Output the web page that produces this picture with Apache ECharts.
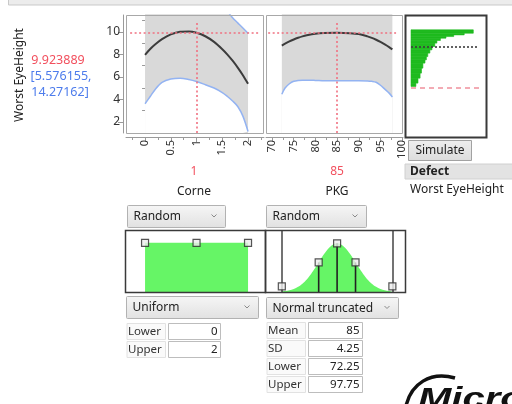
<!DOCTYPE html>
<html><head><meta charset="utf-8">
<script src="https://cdn.jsdelivr.net/npm/echarts@6/dist/echarts.min.js"></script>
<style>html,body{margin:0;padding:0;background:#fff}#c{width:512px;height:404px}</style>
</head><body><div id="c"></div>
<script>
// ---------- data ----------
const corneX     = [0, 0.1, 0.2, 0.33, 0.5, 0.68, 0.85, 1, 1.17, 1.34, 1.5, 1.6, 1.7, 1.8, 1.9, 2];
const corneMean  = [7.96, 8.48, 8.9, 9.35, 9.77, 10.01, 10.04, 9.92, 9.61, 9.11, 8.46, 7.98, 7.43, 6.82, 6.14, 5.38];
const corneLower = [3.6, 4.25, 4.9, 5.5, 5.8, 5.88, 5.76, 5.58, 5.3, 5.0, 4.6, 4.25, 3.85, 3.36, 2.5, 1.14];
const corneUpper = [12.3, 12.7, 12.9, 13.2, 13.7, 14.1, 14.3, 14.27, 13.9, 13.2, 12.4, 11.85, 11.25, 10.8, 10.35, 9.88];

const pkgX     = [72.25, 73, 74, 75, 76, 77, 78, 80, 82, 85, 88, 90, 92, 93, 94, 95, 96, 97, 97.75];
const pkgMean  = [8.78, 8.95, 9.15, 9.32, 9.47, 9.6, 9.7, 9.84, 9.9, 9.92, 9.88, 9.8, 9.6, 9.47, 9.3, 9.1, 8.88, 8.64, 8.44];
const pkgLower = [4.45, 5.0, 5.38, 5.6, 5.68, 5.7, 5.7, 5.68, 5.65, 5.64, 5.64, 5.64, 5.63, 5.6, 5.52, 5.25, 4.9, 4.55, 4.2];
const pkgUpper = [13.1, 12.9, 12.9, 13.0, 13.3, 13.5, 13.7, 14.0, 14.15, 14.2, 14.1, 13.96, 13.6, 13.3, 13.1, 12.95, 12.9, 12.75, 12.7];

const corneTicks = [0, 0.5, 1, 1.5, 2];
const corneMinor = [-0.25, 0.25, 0.75, 1.25, 1.75, 2.25];
const pkgTicks   = [70, 75, 80, 85, 90, 95, 100];
const pkgMinor   = [72.5, 77.5, 82.5, 87.5, 92.5, 97.5];
const yTicks     = [2, 4, 6, 8, 10];
const yMinor     = [1, 3, 5, 7, 9, 11];

const corneCurrent = 1;
const pkgCurrent = 85;
const predText = '9.923889';
const ciText1 = '[5.576155,';
const ciText2 = '14.27162]';
const predValue = 9.923889;

// simulated distribution (horizontal histogram of Worst EyeHeight)
const histLow   = [9.88, 9.73, 9.58, 9.44, 9.23, 9.0, 8.69, 8.4, 8.11, 7.8, 7.51, 7.22, 6.77, 6.33, 5.88, 5.44, 5.14];
const histHigh  = [10.18, 9.88, 9.73, 9.58, 9.44, 9.23, 9.0, 8.69, 8.4, 8.11, 7.8, 7.51, 7.22, 6.77, 6.33, 5.88, 5.44];
const histWidth = [89, 76, 61, 50, 42, 37, 34, 30, 27, 24, 22, 20, 17, 15, 13, 10, 7];
const histMean = 8.7;
const specLimit = 5;

// input distributions
const uniformX = [0, 2];
const uniformDensity = [0.5, 0.5];
const uniformHandles = [0, 1, 2];
const normX = [72.25, 73, 74, 75, 76, 77, 78, 79, 80, 81, 82, 83, 84, 85, 86, 87, 88, 89, 90, 91, 92, 93, 94, 95, 96, 97, 97.75];
const normDensity = [0.0010, 0.0017, 0.0033, 0.0059, 0.0100, 0.0160, 0.0242, 0.0347, 0.0470, 0.0603, 0.0732, 0.0841, 0.0913, 0.0939,
                     0.0913, 0.0841, 0.0732, 0.0603, 0.0470, 0.0347, 0.0242, 0.0160, 0.0100, 0.0059, 0.0033, 0.0017, 0.0010];
const normHandlesX = [72.25, 80.75, 85, 89.25, 97.75];
const normHandlesY = [0.011, 0.057, 0.0939, 0.057, 0.011];
const normStemsX = [80.75, 85, 89.25];
const normStemsY = [0.057, 0.0939, 0.057];
const normBounds = [72.25, 97.75];

const uniformParams = [['Lower', '0'], ['Upper', '2']];
const normalParams = [['Mean', '85'], ['SD', '4.25'], ['Lower', '72.25'], ['Upper', '97.75']];

// ---------- chart ----------
const FONT = '"Noto Sans", "DejaVu Sans", sans-serif';
const RED = '#f2505e';
const BLUE = '#4d7cec';
const zip = (a, b) => a.map((v, i) => [v, b[i]]);

const grids = [
  {left: 126, top: 15, width: 138, height: 118},
  {left: 266, top: 15, width: 137, height: 118},
  {left: 411, top: 15, width: 70, height: 118},
  {left: 126, top: 231, width: 138, height: 61},
  {left: 266, top: 231, width: 137, height: 61}
].map(g => Object.assign(g, {containLabel: false, outerBoundsMode: 'none', show: false}));

const hidden = {axisLine: {show: false}, axisTick: {show: false}, axisLabel: {show: false}, splitLine: {show: false}};
const axCol = '#9a9a9a';

function xMajor(grid, min, max, ticks) {
  return {type: 'value', gridIndex: grid, min, max, position: 'bottom', offset: 4,
    axisLine: {show: true, onZero: false, lineStyle: {color: axCol, width: 1}},
    axisTick: {show: true, customValues: ticks, length: 5, lineStyle: {color: axCol}},
    axisLabel: {show: true, customValues: ticks, rotate: 90, fontSize: 11, margin: 3, color: '#333', fontFamily: FONT},
    splitLine: {show: false}};
}
function xMinor(grid, min, max, ticks) {
  return {type: 'value', gridIndex: grid, min, max, position: 'bottom', offset: 4,
    axisLine: {show: false}, axisTick: {show: true, customValues: ticks, length: 3, lineStyle: {color: axCol}},
    axisLabel: {show: false}, splitLine: {show: false}};
}

const xAxes = [
  xMajor(0, -0.37, 2.31, corneTicks),
  xMinor(0, -0.37, 2.31, corneMinor),
  xMajor(1, 68.6, 100.2, pkgTicks),
  xMinor(1, 68.6, 100.2, pkgMinor),
  Object.assign({type: 'value', gridIndex: 2, min: 0, max: 100}, hidden),
  Object.assign({type: 'value', gridIndex: 3, min: -0.37, max: 2.31}, hidden),
  Object.assign({type: 'value', gridIndex: 4, min: 68.6, max: 100.2}, hidden)
];
const yAxes = [
  {type: 'value', gridIndex: 0, min: 1, max: 11.5, position: 'left', offset: 3,
    axisLine: {show: true, onZero: false, lineStyle: {color: axCol}},
    axisTick: {show: true, customValues: yTicks, length: 5, lineStyle: {color: axCol}},
    axisLabel: {show: true, customValues: yTicks, fontSize: 12, margin: 3, color: '#333', fontFamily: FONT},
    splitLine: {show: false}},
  {type: 'value', gridIndex: 0, min: 1, max: 11.5, position: 'left', offset: 3,
    axisLine: {show: false}, axisTick: {show: true, customValues: yMinor, length: 3, lineStyle: {color: axCol}},
    axisLabel: {show: false}, splitLine: {show: false}},
  Object.assign({type: 'value', gridIndex: 1, min: 1, max: 11.5}, hidden),
  Object.assign({type: 'value', gridIndex: 2, min: 1, max: 11.5}, hidden),
  Object.assign({type: 'value', gridIndex: 3, min: 0, max: 0.62}, hidden),
  Object.assign({type: 'value', gridIndex: 4, min: 0, max: 0.1176}, hidden)
];

const redDot = {color: '#f07080', width: 1.6, type: [2, 2.5]};

function profilerSeries(xi, yi, xs, mean, lower, upper, cur, hx0, hx1) {
  return [
    {type: 'line', xAxisIndex: xi, yAxisIndex: yi, data: zip(xs, upper), smooth: 0.3, symbol: 'none', z: 2,
      lineStyle: {color: '#93b3f2', width: 1.5}, areaStyle: {color: '#d9d9d9', opacity: 1, origin: 'start'}},
    {type: 'line', xAxisIndex: xi, yAxisIndex: yi, data: zip(xs, lower), smooth: 0.3, symbol: 'none', z: 3,
      lineStyle: {color: '#93b3f2', width: 1.5}, areaStyle: {color: '#ffffff', opacity: 1, origin: 'start'}},
    {type: 'line', xAxisIndex: xi, yAxisIndex: yi, data: zip(xs, mean), smooth: 0.3, symbol: 'none', z: 4,
      lineStyle: {color: '#3c3c3c', width: 2},
      markLine: {silent: true, symbol: 'none', label: {show: false}, lineStyle: redDot, animation: false,
        data: [
          [{coord: [hx0, predValue]}, {coord: [hx1, predValue]}],
          [{coord: [cur, 1]}, {coord: [cur, 10.8]}]
        ]}}
  ];
}

const series = [
  ...profilerSeries(0, 0, corneX, corneMean, corneLower, corneUpper, corneCurrent, -0.29, 2.2),
  ...profilerSeries(2, 2, pkgX, pkgMean, pkgLower, pkgUpper, pkgCurrent, 69.1, 98.6),
  {type: 'custom', xAxisIndex: 4, yAxisIndex: 3, coordinateSystem: 'cartesian2d',
    data: histLow.map((v, i) => [v, histHigh[i], histWidth[i]]),
    encode: {x: 2, y: [0, 1]},
    renderItem: (params, api) => {
      const p1 = api.coord([0, api.value(1)]);
      const p2 = api.coord([api.value(2), api.value(0)]);
      return {type: 'rect', shape: {x: p1[0], y: p1[1], width: p2[0] - p1[0], height: p2[1] - p1[1]},
        style: {fill: '#1fba1f', stroke: '#1fba1f', lineWidth: 0.6}};
    },
    markLine: {silent: true, symbol: 'none', label: {show: false}, animation: false,
      data: [
        [{coord: [0, histMean], lineStyle: {color: '#3c3c3c', width: 1.6, type: [2, 2]}}, {coord: [97, histMean]}],
        [{coord: [0, specLimit], lineStyle: {color: '#f0909c', width: 1.6, type: [5, 4]}}, {coord: [100, specLimit]}]
      ]}},
  {type: 'line', xAxisIndex: 5, yAxisIndex: 4, data: zip(uniformX, uniformDensity), symbol: 'none',
    lineStyle: {width: 0}, areaStyle: {color: '#66f566', opacity: 1, origin: 'start'}},
  {type: 'scatter', xAxisIndex: 5, yAxisIndex: 4, data: uniformHandles.map(x => [x, uniformDensity[0]]),
    symbol: 'rect', symbolSize: 7, z: 10, itemStyle: {color: '#ececec', borderColor: '#2a2a2a', borderWidth: 1.2}},
  {type: 'line', xAxisIndex: 6, yAxisIndex: 5, data: zip(normX, normDensity), symbol: 'none', smooth: 0.3,
    lineStyle: {width: 0}, areaStyle: {color: '#66f566', opacity: 1, origin: 'start'},
    markLine: {silent: true, symbol: 'none', label: {show: false}, animation: false,
      lineStyle: {color: '#444', width: 1.5, type: 'solid'},
      data: normBounds.map(x => ({xAxis: x}))}},
  {type: 'custom', xAxisIndex: 6, yAxisIndex: 5, coordinateSystem: 'cartesian2d', z: 9,
    data: zip(normStemsX, normStemsY),
    renderItem: (params, api) => {
      const a = api.coord([api.value(0), 0]);
      const b = api.coord([api.value(0), api.value(1)]);
      return {type: 'line', shape: {x1: a[0], y1: a[1], x2: b[0], y2: b[1]}, style: {stroke: '#222', lineWidth: 1.6}};
    }},
  {type: 'scatter', xAxisIndex: 6, yAxisIndex: 5, data: zip(normHandlesX, normHandlesY),
    symbol: 'rect', symbolSize: 7, z: 10, itemStyle: {color: '#ececec', borderColor: '#2a2a2a', borderWidth: 1.2}}
];

// ---------- UI chrome ----------
function txt(x, y, text, opts) {
  opts = opts || {};
  return {type: 'text', x, y, rotation: opts.rotation || 0, z: 100,
    style: {text, font: (opts.weight || 'normal') + ' ' + (opts.size || 12) + 'px ' + FONT, fill: opts.color || '#222',
      align: opts.align || 'left', verticalAlign: 'middle', textAlign: opts.align || 'left', textVerticalAlign: 'middle'}};
}
function frame(x, y, w, h, stroke, lw) {
  return {type: 'rect', z: 90, shape: {x, y, width: w, height: h}, style: {fill: null, stroke, lineWidth: lw}};
}
function dropdown(x, y, w, h, label) {
  return {type: 'group', children: [
    {type: 'rect', z: 100, shape: {x, y, width: w, height: h, r: 1},
      style: {fill: {type: 'linear', x: 0, y: 0, x2: 0, y2: 1, colorStops: [{offset: 0, color: '#f6f6f6'}, {offset: 1, color: '#e1e1e1'}]},
        stroke: '#b2b2b2', lineWidth: 1}},
    txt(x + 6, y + h / 2 + 0.5, label),
    {type: 'polyline', z: 101, shape: {points: [[x + w - 14, y + h / 2 - 2], [x + w - 11.5, y + h / 2 + 0.5], [x + w - 9, y + h / 2 - 2]]},
      style: {stroke: '#8a8a8a', lineWidth: 1, fill: null}}
  ]};
}
function field(lx, fx, y, fw, h, label, value) {
  return {type: 'group', children: [
    {type: 'rect', z: 99, shape: {x: lx - 1, y: y, width: fx - lx - 2, height: h}, style: {fill: '#fafafa', stroke: '#e2e2e2', lineWidth: 1}},
    txt(lx, y + h / 2, label, {size: 11.5, color: '#333'}),
    {type: 'rect', z: 99, shape: {x: fx, y: y, width: fw, height: h}, style: {fill: '#fff', stroke: '#bdbdbd', lineWidth: 1}},
    txt(fx + fw - 3, y + h / 2, value, {size: 11.5, align: 'right', color: '#222'})
  ]};
}

const graphic = [
  {type: 'rect', z: 100, shape: {x: 8.5, y: -2, width: 506, height: 7}, style: {fill: '#ececec', stroke: '#c9c9c9', lineWidth: 1}},
  txt(20, 75, 'Worst EyeHeight', {rotation: Math.PI / 2, align: 'center', color: '#222'}),
  txt(58, 60, predText, {align: 'center', color: RED, size: 12.5}),
  txt(61, 76, ciText1, {align: 'center', color: BLUE, size: 12.5}),
  txt(60, 92, ciText2, {align: 'center', color: BLUE, size: 12.5}),
  frame(126.5, 15.5, 137, 118, '#a8a8a8', 1),
  frame(266.5, 15.5, 136, 118, '#a8a8a8', 1),
  frame(405.5, 15.5, 81, 122, '#3a3a3a', 2),
  txt(194, 172, String(corneCurrent), {align: 'center', color: RED}),
  txt(194, 192, 'Corne', {align: 'center', color: '#222'}),
  txt(337, 172, String(pkgCurrent), {align: 'center', color: RED}),
  txt(337, 192, 'PKG', {align: 'center', color: '#222'}),
  {type: 'rect', z: 100, shape: {x: 408.5, y: 140.5, width: 63, height: 20},
    style: {fill: {type: 'linear', x: 0, y: 0, x2: 0, y2: 1, colorStops: [{offset: 0, color: '#eeeeee'}, {offset: 1, color: '#dcdcdc'}]},
      stroke: '#a2a2a2', lineWidth: 1}},
  txt(440, 151, 'Simulate', {align: 'center'}),
  {type: 'rect', z: 99, shape: {x: 405, y: 164, width: 108, height: 15}, style: {fill: '#e3e3e3', stroke: '#d0d0d0', lineWidth: 1}},
  txt(410, 172, 'Defect', {weight: 'bold'}),
  txt(410, 190, 'Worst EyeHeight', {color: '#222'}),
  dropdown(127.5, 205.5, 98, 22, 'Random'),
  dropdown(266.5, 205.5, 100, 22, 'Random'),
  frame(125.5, 230.5, 140, 62, '#3a3a3a', 1.5),
  frame(265.5, 230.5, 140, 62, '#3a3a3a', 1.5),
  dropdown(126.5, 296.5, 132, 22, 'Uniform'),
  dropdown(266.5, 297.5, 132, 21, 'Normal truncated'),
  ...uniformParams.map((p, i) => field(128, 168.5, 323.5 + i * 18, 52, 16, p[0], p[1])),
  ...normalParams.map((p, i) => field(268, 308.5, 322.5 + i * 18, 54, 16, p[0], p[1])),
  {type: 'bezierCurve', z: 100, shape: {x1: 406, y1: 406, cpx1: 411, cpy1: 384, cpx2: 430, cpy2: 371, x2: 455, y2: 378},
    style: {stroke: '#111', lineWidth: 3.5, fill: null}},
  {type: 'text', z: 100, x: 418, y: 414, scaleX: 1.38, scaleY: 1,
    style: {text: 'Micro', font: 'italic bold 29px "Liberation Sans", Arial, sans-serif', fill: '#111',
      align: 'left', verticalAlign: 'bottom', textAlign: 'left', textVerticalAlign: 'bottom'}}
];

const chart = echarts.init(document.getElementById('c'), null, {renderer: 'canvas'});
chart.setOption({
  animation: false,
  backgroundColor: '#ffffff',
  grid: grids,
  xAxis: xAxes,
  yAxis: yAxes,
  series,
  graphic
});
</script>
</body></html>
